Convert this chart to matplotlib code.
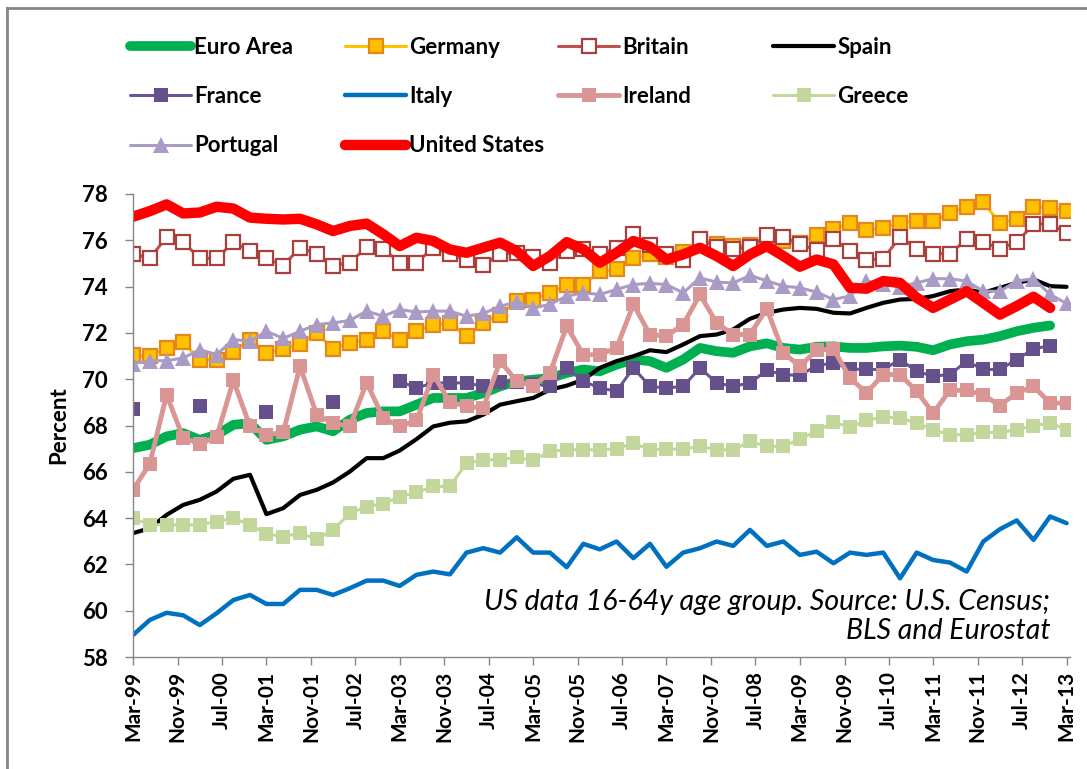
import matplotlib
matplotlib.use('Agg')
import matplotlib.pyplot as plt
from matplotlib.lines import Line2D
import numpy as np
import pandas as pd

plt.rcParams['font.family'] = ['Lato', 'DejaVu Sans']

nan = np.nan

# quarterly observations, Mar-99 .. Mar-13
dates = pd.date_range('1999-03-01', '2013-03-01', freq='QS-MAR')

euro_area = [67.02, 67.17, 67.53, 67.67, 67.38, 67.6, 68.03, 68.1, 67.38, 67.53, 67.82, 67.96, 67.75, 68.25,
             68.54, 68.61, 68.61, 68.9, 69.19, 69.19, 69.19, 69.4, 69.69, 69.91, 69.98, 70.05, 70.27, 70.42,
             70.34, 70.63, 70.85, 70.78, 70.49, 70.85, 71.35, 71.21, 71.14, 71.42, 71.55, 71.35, 71.28, 71.4,
             71.42, 71.35, 71.35, 71.42, 71.45, 71.4, 71.25, 71.5, 71.64, 71.71, 71.86, 72.07, 72.22, 72.32, nan]
germany = [71.04, 70.99, 71.35, 71.61, 70.82, 70.85, 71.17, 71.71, 71.14, 71.31, 71.54, 72.0, 71.32, 71.57,
           71.71, 72.07, 71.71, 72.1, 72.33, 72.43, 71.86, 72.43, 72.79, 73.37, 73.44, 73.73, 74.05, 74.05,
           74.67, 74.74, 75.25, 75.39, 75.3, 75.5, 76.0, 75.85, 75.75, 75.8, 75.85, 75.95, 75.9, 76.21,
           76.5, 76.73, 76.44, 76.54, 76.76, 76.83, 76.83, 77.16, 77.45, 77.65, 76.73, 76.93, 77.45, 77.41, 77.26]
britain = [75.42, 75.22, 76.14, 75.92, 75.22, 75.22, 75.92, 75.53, 75.22, 74.91, 75.68, 75.42, 74.91, 75.03,
           75.71, 75.64, 75.03, 75.03, 75.68, 75.39, 75.17, 74.95, 75.39, 75.45, 75.3, 75.03, 75.53, 75.61,
           75.42, 75.68, 76.26, 75.78, 75.39, 75.17, 76.04, 75.72, 75.61, 75.72, 76.21, 76.15, 75.82, 75.58,
           76.07, 75.53, 75.15, 75.2, 76.15, 75.64, 75.42, 75.42, 76.04, 75.92, 75.64, 75.92, 76.69, 76.72, 76.3]
spain = [63.35, 63.56, 64.14, 64.57, 64.79, 65.15, 65.7, 65.87, 64.17, 64.43, 65.0, 65.22, 65.54, 66.01,
         66.59, 66.59, 66.92, 67.41, 67.96, 68.12, 68.18, 68.47, 68.9, 69.05, 69.19, 69.55, 69.72, 69.98,
         70.49, 70.78, 70.99, 71.25, 71.17, 71.5, 71.86, 71.93, 72.15, 72.61, 72.87, 73.01, 73.08, 73.04,
         72.87, 72.84, 73.08, 73.3, 73.44, 73.47, 73.59, 73.8, 73.88, 73.73, 73.95, 74.16, 74.31, 74.02, 73.99]
france = [68.71, nan, nan, nan, 68.83, nan, nan, nan, 68.58, nan, nan, nan, 69.0, nan,
          nan, nan, 69.91, 69.62, 69.84, 69.84, 69.84, 69.69, 69.9, 69.9, 69.8, 69.69, 70.49, 69.91,
          69.62, 69.48, 70.49, 69.69, 69.62, 69.69, 70.49, 69.84, 69.69, 69.84, 70.38, 70.2, 70.16, 70.59,
          70.7, 70.44, 70.42, 70.42, 70.85, 70.34, 70.13, 70.2, 70.78, 70.42, 70.42, 70.85, 71.31, 71.45, nan]
italy = [58.95, 59.6, 59.91, 59.8, 59.38, 59.89, 60.46, 60.68, 60.29, 60.29, 60.9, 60.9, 60.68, 60.97,
         61.3, 61.3, 61.07, 61.55, 61.69, 61.57, 62.51, 62.7, 62.51, 63.17, 62.51, 62.51, 61.88, 62.89,
         62.65, 62.99, 62.27, 62.89, 61.9, 62.51, 62.7, 62.99, 62.8, 63.49, 62.8, 62.99, 62.41, 62.55,
         62.05, 62.51, 62.41, 62.51, 61.4, 62.51, 62.19, 62.08, 61.69, 62.99, 63.52, 63.9, 63.06, 64.07, 63.78]
ireland = [65.22, 66.35, 69.33, 67.46, 67.21, 67.5, 69.95, 67.96, 67.6, 67.7, 70.56, 68.47, 68.1, 67.96,
           69.85, 68.32, 67.96, 68.22, 70.2, 69.0, 68.83, 68.76, 70.78, 69.91, 69.72, 70.27, 72.29, 71.06,
           71.06, 71.35, 73.23, 71.93, 71.86, 72.36, 73.66, 72.43, 71.93, 71.93, 73.05, 71.14, 70.56, 71.25,
           71.31, 70.05, 69.41, 70.2, 70.2, 69.48, 68.54, 69.52, 69.52, 69.33, 68.86, 69.41, 69.69, 68.97, 68.97]
greece = [64.0, 63.71, 63.71, 63.71, 63.71, 63.85, 64.0, 63.71, 63.32, 63.2, 63.35, 63.09, 63.49, 64.21,
          64.5, 64.62, 64.93, 65.11, 65.37, 65.37, 66.37, 66.52, 66.52, 66.63, 66.49, 66.88, 66.95, 66.95,
          66.95, 66.99, 67.24, 66.95, 66.98, 66.98, 67.1, 66.95, 66.95, 67.31, 67.1, 67.1, 67.41, 67.75,
          68.14, 67.93, 68.22, 68.37, 68.32, 68.11, 67.82, 67.6, 67.6, 67.7, 67.7, 67.82, 67.99, 68.11, 67.82]
portugal = [70.67, 70.8, 70.8, 70.92, 71.28, 71.06, 71.71, 71.64, 72.07, 71.76, 72.07, 72.36, 72.43, 72.54,
            72.94, 72.72, 73.01, 72.9, 72.94, 72.94, 72.72, 72.84, 73.15, 73.33, 73.08, 73.23, 73.59, 73.73,
            73.66, 73.88, 74.09, 74.14, 74.09, 73.73, 74.38, 74.19, 74.16, 74.48, 74.25, 74.02, 73.95, 73.76,
            73.44, 73.6, 74.24, 74.1, 74.0, 74.16, 74.34, 74.34, 74.24, 73.8, 73.8, 74.24, 74.34, 73.66, 73.27]
united_states = [77.02, 77.26, 77.55, 77.16, 77.2, 77.45, 77.37, 76.98, 76.93, 76.9, 76.93, 76.69, 76.4, 76.62,
                 76.72, 76.26, 75.75, 76.11, 75.97, 75.6, 75.46, 75.68, 75.9, 75.53, 74.89, 75.32, 75.92, 75.61,
                 75.03, 75.46, 75.97, 75.72, 75.17, 75.39, 75.68, 75.32, 74.89, 75.39, 75.75, 75.32, 74.86, 75.17,
                 74.96, 73.95, 73.91, 74.24, 74.16, 73.52, 73.08, 73.44, 73.8, 73.3, 72.79, 73.16, 73.56, 73.08, nan]

tick_dates = pd.date_range('1999-03-01', '2013-03-01', freq='8MS')
tick_labels = ['Mar-99', 'Nov-99', 'Jul-00', 'Mar-01', 'Nov-01', 'Jul-02', 'Mar-03', 'Nov-03', 'Jul-04',
               'Mar-05', 'Nov-05', 'Jul-06', 'Mar-07', 'Nov-07', 'Jul-08', 'Mar-09', 'Nov-09', 'Jul-10',
               'Mar-11', 'Nov-11', 'Jul-12', 'Mar-13']
y_ticks = [58, 60, 62, 64, 66, 68, 70, 72, 74, 76, 78]

W, H = 1087, 769
fig = plt.figure(figsize=(W / 100, H / 100), dpi=100)
ax = fig.add_axes([133 / W, 1 - 657 / H, (1070 - 133) / W, (657 - 194) / H])

style = dict(solid_joinstyle='round', solid_capstyle='round')
h = {}
h['Euro Area'], = ax.plot(dates, euro_area, color='#00B050', lw=7, **style)
h['Germany'], = ax.plot(dates, germany, color='#FFC000', lw=2.2, marker='s', ms=9.5,
                        mfc='#FFC000', mec='#E3871E', mew=1.6, **style)
h['Britain'], = ax.plot(dates, britain, color='#C0504D', lw=2.2, marker='s', ms=9.5,
                        mfc='white', mec='#A8403D', mew=1.6, **style)
h['Spain'], = ax.plot(dates, spain, color='black', lw=3, **style)
h['France'], = ax.plot(dates, france, color='#6A5594', lw=2.2, marker='s', ms=10.5,
                       mfc='#65508C', mec='#65508C', mew=0, **style)
h['Italy'], = ax.plot(dates, italy, color='#0070C0', lw=3.2, **style)
h['Ireland'], = ax.plot(dates, ireland, color='#D99694', lw=3.5, marker='s', ms=10,
                        mfc='#D99694', mec='#D99694', mew=0, **style)
h['Greece'], = ax.plot(dates, greece, color='#C3D69B', lw=2.2, marker='s', ms=10.5,
                       mfc='#C3D69B', mec='#C3D69B', mew=0, **style)
h['Portugal'], = ax.plot(dates, portugal, color='#A99BC6', lw=2.2, marker='^', ms=11,
                         mfc='#A99BC6', mec='#A99BC6', mew=0, **style)
h['United States'], = ax.plot(dates, united_states, color='#FF0000', lw=7.5, **style)

ax.set_ylim(58, 78)
ax.set_yticks(y_ticks)
ax.set_xlim(dates[0], pd.Timestamp('2013-03-20'))
ax.set_xticks(tick_dates)
ax.set_xticklabels(tick_labels, rotation=90, fontsize=15, fontweight='bold')
ax.tick_params(axis='y', labelsize=16)
for lab in ax.get_yticklabels():
    lab.set_fontweight('bold')
ax.tick_params(direction='out', length=6, width=1, color='#868686')
ax.tick_params(axis='x', pad=4)
ax.tick_params(axis='y', pad=12)
for s in ['top', 'right']:
    ax.spines[s].set_visible(False)
for s in ['left', 'bottom']:
    ax.spines[s].set_color('#868686')
    ax.spines[s].set_linewidth(1)
ax.set_ylabel('Percent', fontsize=16, fontweight='bold', labelpad=9)

ax.text(0.9787, 0.088, 'US data 16-64y age group. Source: U.S. Census;\nBLS and Eurostat',
        transform=ax.transAxes, ha='right', va='center', fontsize=20.5, style='italic',
        linespacing=1.15)

# legend laid out in Excel's grid: 4 columns, filled row-wise
columns = [['Euro Area', 'France', 'Portugal'], ['Germany', 'Italy', 'United States'],
           ['Britain', 'Ireland'], ['Spain', 'Greece']]
col_x = [130, 345, 558, 773]
for names, x in zip(columns, col_x):
    fig.legend([h[n] for n in names], names, loc='upper left', bbox_to_anchor=(x / W, 1 - 37 / H),
               frameon=False, borderpad=0, borderaxespad=0, handlelength=2.75, handletextpad=0.15,
               labelspacing=1.27, prop={'weight': 'bold', 'size': 16})

# outer chart frame (cut by the image on the right and bottom)
fig.add_artist(Line2D([7 / W, 7 / W], [0, 1 - 8 / H], color='#868686', lw=2))
fig.add_artist(Line2D([7 / W, 1], [1 - 8 / H, 1 - 8 / H], color='#868686', lw=2))

fig.savefig('out.png', dpi=100)
